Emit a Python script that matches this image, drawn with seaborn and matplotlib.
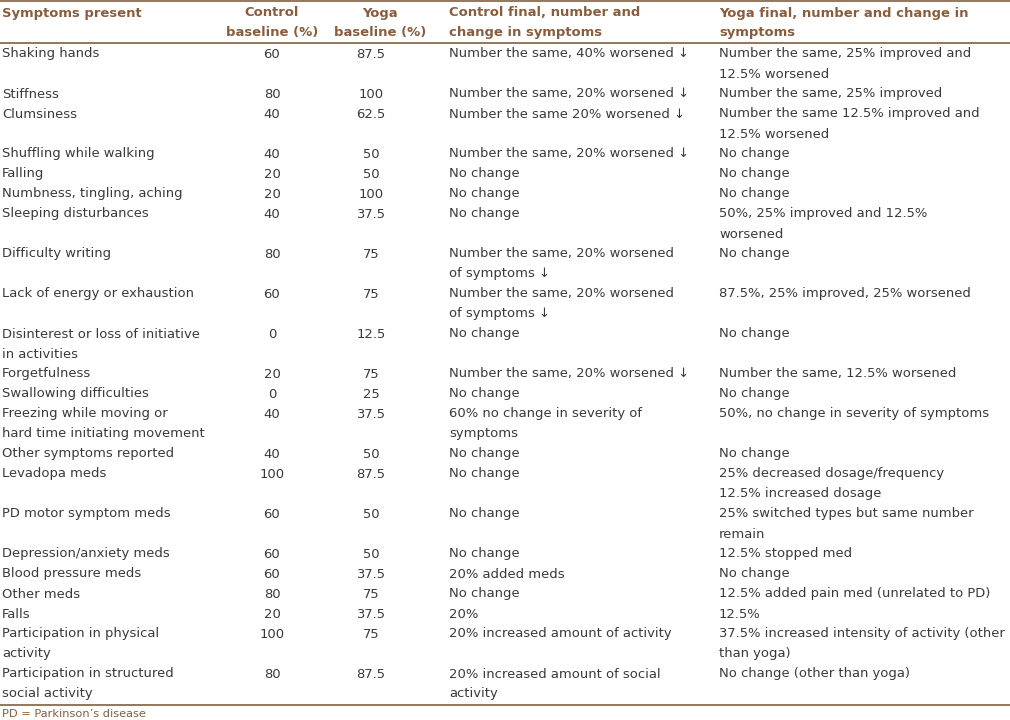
import matplotlib
matplotlib.use("Agg")
import seaborn as sns
import matplotlib.pyplot as plt

# ---- table content ----
headers = ["Symptoms present", "Control\nbaseline (%)", "Yoga\nbaseline (%)",
           "Control final, number and\nchange in symptoms",
           "Yoga final, number and change in\nsymptoms"]

symptoms = [
    "Shaking hands", "Stiffness", "Clumsiness", "Shuffling while walking",
    "Falling", "Numbness, tingling, aching", "Sleeping disturbances",
    "Difficulty writing", "Lack of energy or exhaustion",
    "Disinterest or loss of initiative\nin activities", "Forgetfulness",
    "Swallowing difficulties",
    "Freezing while moving or\nhard time initiating movement",
    "Other symptoms reported", "Levadopa meds", "PD motor symptom meds",
    "Depression/anxiety meds", "Blood pressure meds", "Other meds", "Falls",
    "Participation in physical\nactivity",
    "Participation in structured\nsocial activity",
]

control_base = ["60", "80", "40", "40", "20", "20", "40", "80", "60", "0", "20",
                "0", "40", "40", "100", "60", "60", "60", "80", "20", "100", "80"]

yoga_base = ["87.5", "100", "62.5", "50", "50", "100", "37.5", "75", "75",
             "12.5", "75", "25", "37.5", "50", "87.5", "50", "50", "37.5",
             "75", "37.5", "75", "87.5"]

control_final = [
    "Number the same, 40% worsened \u2193",
    "Number the same, 20% worsened \u2193",
    "Number the same 20% worsened \u2193",
    "Number the same, 20% worsened \u2193",
    "No change", "No change", "No change",
    "Number the same, 20% worsened\nof symptoms \u2193",
    "Number the same, 20% worsened\nof symptoms \u2193",
    "No change",
    "Number the same, 20% worsened \u2193",
    "No change",
    "60% no change in severity of\nsymptoms",
    "No change", "No change", "No change", "No change",
    "20% added meds", "No change", "20%",
    "20% increased amount of activity",
    "20% increased amount of social\nactivity",
]

yoga_final = [
    "Number the same, 25% improved and\n12.5% worsened",
    "Number the same, 25% improved",
    "Number the same 12.5% improved and\n12.5% worsened",
    "No change", "No change", "No change",
    "50%, 25% improved and 12.5%\nworsened",
    "No change",
    "87.5%, 25% improved, 25% worsened",
    "No change",
    "Number the same, 12.5% worsened",
    "No change",
    "50%, no change in severity of symptoms",
    "No change",
    "25% decreased dosage/frequency\n12.5% increased dosage",
    "25% switched types but same number\nremain",
    "12.5% stopped med",
    "No change",
    "12.5% added pain med (unrelated to PD)",
    "12.5%",
    "37.5% increased intensity of activity (other\nthan yoga)",
    "No change (other than yoga)",
]

footnote = "PD = Parkinson\u2019s disease"

# ---- style ----
sns.set_theme(style="white")
plt.rcParams["font.family"] = ["DejaVu Sans"]

brown = "#8a5c3c"
rule = "#8b6b50"
body = "#3a3a3a"
fs = 9.45

fig = plt.figure(figsize=(10.1, 7.2), dpi=100)
ax = fig.add_axes([0, 0, 1, 1])
ax.set_xlim(0, 1010)
ax.set_ylim(720, 0)
ax.axis("off")

col_x = [2, 272, 371, 449, 719]
col_ha = ["left", "center", "center", "left", "left"]
head_x = [2, 272, 380, 449, 719]
line_h = 20

# header
for x, ha, txt in zip(head_x, col_ha, headers):
    for i, ln in enumerate(txt.split("\n")):
        ax.text(x, 13 + i * 19.5, ln, ha=ha, va="center", color=brown,
                fontsize=fs, fontweight="bold")

ax.axhline(1, color=rule, lw=1.3)
ax.axhline(42.5, color=rule, lw=1.3)

# body rows
y = 54
for row in zip(symptoms, control_base, yoga_base, control_final, yoga_final):
    nlines = max(len(c.split("\n")) for c in row)
    for x, ha, cell in zip(col_x, col_ha, row):
        for i, ln in enumerate(cell.split("\n")):
            ax.text(x, y + i * line_h, ln, ha=ha, va="center",
                    color=body, fontsize=fs)
    y += nlines * line_h

ax.axhline(704.5, color=rule, lw=1.3)
ax.text(2, 714, footnote, ha="left", va="center", color=brown, fontsize=8.2)

fig.savefig("out.png", dpi=100, facecolor="white")
